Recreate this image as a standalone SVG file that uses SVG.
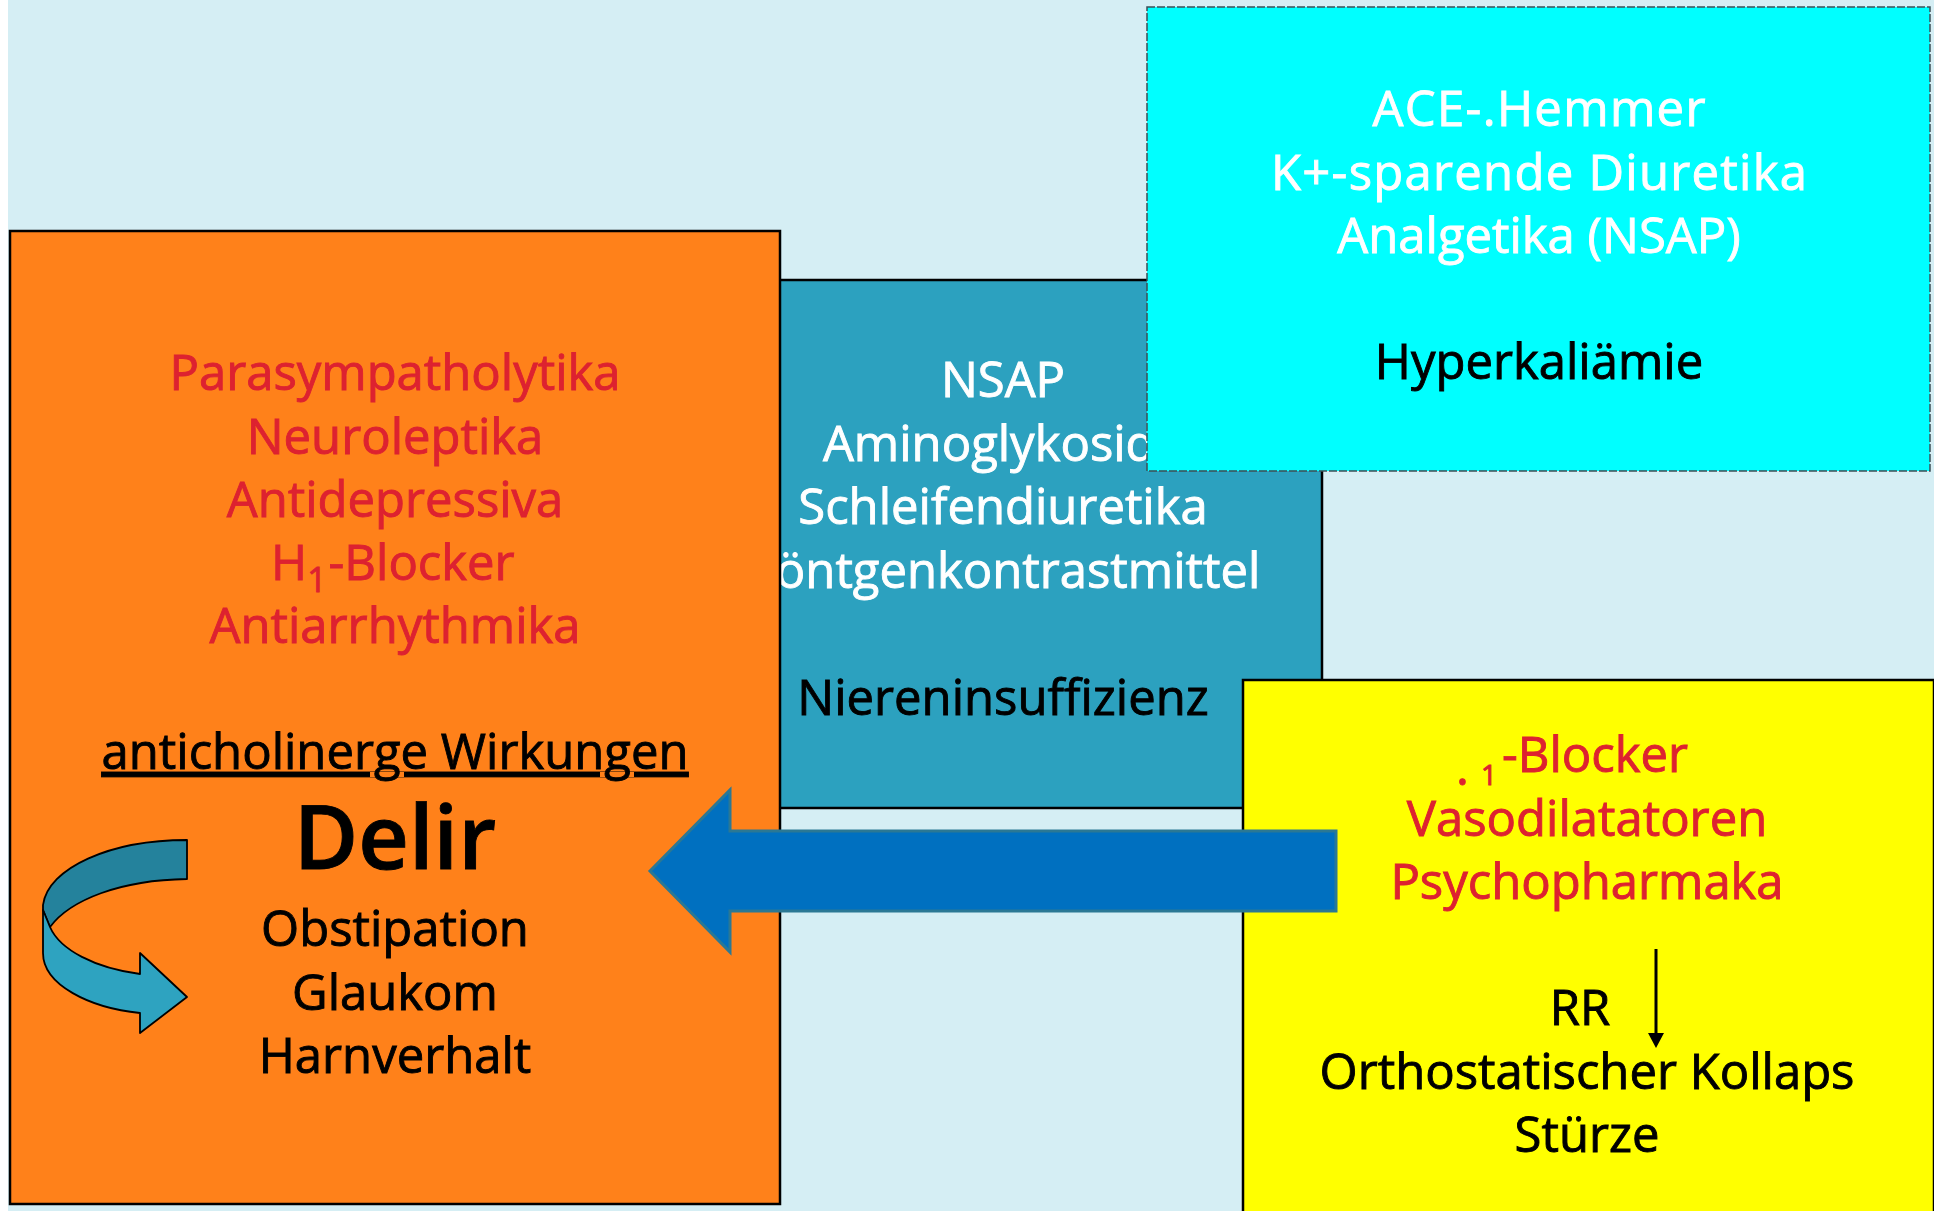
<svg xmlns="http://www.w3.org/2000/svg" width="1934" height="1211" viewBox="0 0 1934 1211">
<style>
text{font-family:"Open Sans","DejaVu Sans",sans-serif;font-size:49px;text-anchor:middle;stroke-width:0.9px}
.w{fill:#ffffff;stroke:#ffffff}
.r{fill:#DD2230;stroke:#DD2230}
.k{fill:#000000;stroke:#000000}
.box{stroke:#000;stroke-width:2.5}
</style>
<rect x="0" y="0" width="1934" height="1211" fill="#ffffff"/>
<rect x="8" y="0" width="1926" height="1211" fill="#D5EEF4"/>

<g id="teal-box">
<rect class="box" x="700" y="280" width="622" height="528" fill="#2CA1BF" stroke-width="2"/>
<text class="w" x="1003" y="397">NSAP</text>
<text class="w" x="1003" y="461">Aminoglykoside</text>
<text class="w" x="1003" y="524">Schleifendiuretika</text>
<text class="w" x="1003" y="588">Röntgenkontrastmittel</text>
<text class="k" x="1003" y="715">Niereninsuffizienz</text>
</g>

<g id="cyan-box">
<rect x="1147" y="7" width="783" height="464" fill="#00FFFF" stroke="#3d4f55" stroke-width="1.5" stroke-dasharray="8 2"/>
<text class="w" x="1539" y="126" textLength="333">ACE-.Hemmer</text>
<text class="w" x="1539" y="190" textLength="536">K+-sparende Diuretika</text>
<text class="w" x="1539" y="253">Analgetika (NSAP)</text>
<text class="k" x="1539" y="379">Hyperkaliämie</text>
</g>

<g id="orange-box">
<rect class="box" x="10" y="231" width="770" height="973" fill="#FF811A" stroke-width="3"/>
<text class="r" x="395" y="390">Parasympatholytika</text>
<text class="r" x="395" y="454">Neuroleptika</text>
<text class="r" x="395" y="517">Antidepressiva</text>
<text class="r" x="271" y="580" style="text-anchor:start">H<tspan font-size="34" dy="12">1</tspan><tspan dy="-12" dx="2">-Blocker</tspan></text>
<text class="r" x="395" y="643">Antiarrhythmika</text>
<text class="k" x="395" y="769" text-decoration="underline">anticholinerge Wirkungen</text>
<text class="k" x="395" y="869" style="font-size:88px;font-weight:600">Delir</text>
<text class="k" x="395" y="946">Obstipation</text>
<text class="k" x="395" y="1010">Glaukom</text>
<text class="k" x="395" y="1073">Harnverhalt</text>
</g>

<g id="curved-arrow" stroke="#000" stroke-width="1.8" stroke-linejoin="round">
<path d="M187,840 C110,840 48,868 43,905 L43,910 L50,927 C70,900 120,880 187,879 Z" fill="#24829C"/>
<path d="M43,910 L43,953 C43,985 90,1008 140,1013 L140,1033 L187,997 L140,953 L140,974 C95,968 60,950 50,927 Z" fill="#2EA3C0"/>
</g>

<g id="yellow-box">
<rect class="box" x="1243" y="680" width="691" height="540" fill="#FFFF00" stroke-width="2.5"/>
<text class="r" x="1456" y="785" style="text-anchor:start">.<tspan x="1481" font-size="28">1</tspan><tspan x="1502" y="772">-Blocker</tspan></text>
<text class="r" x="1587" y="836">Vasodilatatoren</text>
<text class="r" x="1587" y="899">Psychopharmaka</text>
<text class="k" x="1580" y="1025">RR</text>
<text class="k" x="1587" y="1089">Orthostatischer Kollaps</text>
<text class="k" x="1587" y="1152">Stürze</text>
</g>

<g id="connectors">
<polygon points="650,871 730,790 730,831 1336,831 1336,911 730,911 730,952" fill="#0070C0" stroke="#2B7894" stroke-width="3" stroke-linejoin="miter"/>
<line x1="1656" y1="949" x2="1656" y2="1035" stroke="#000" stroke-width="3"/>
<polygon points="1648,1033 1664,1033 1656,1048" fill="#000"/>
</g>
</svg>
